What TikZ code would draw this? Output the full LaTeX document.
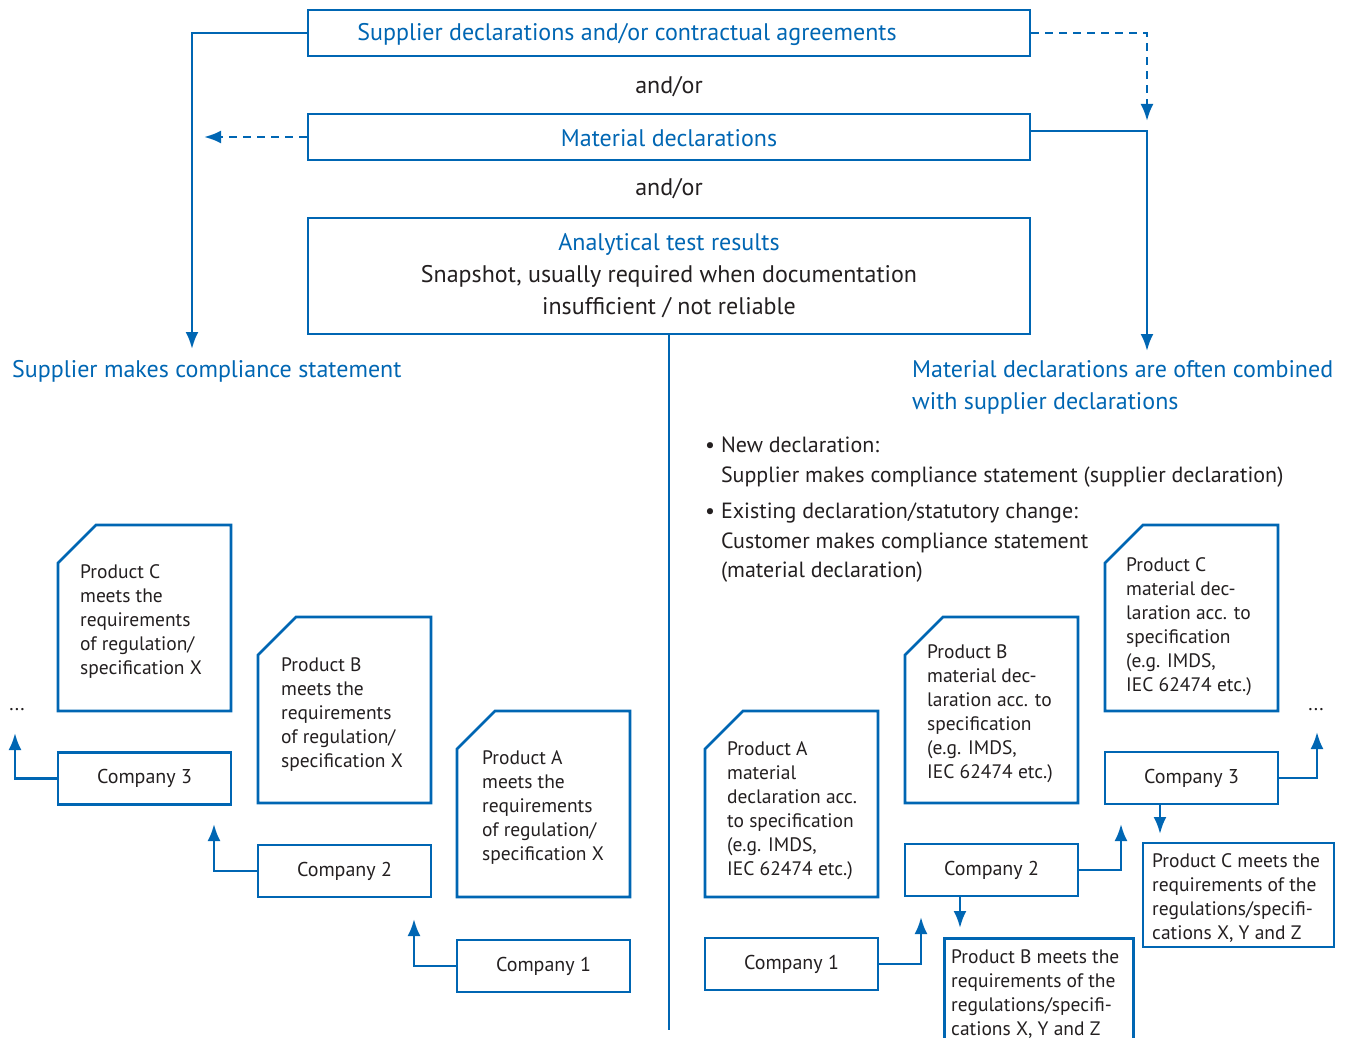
\documentclass[tikz,border=0pt]{standalone}
\usepackage{fontspec}
\setmainfont{PT Sans}
\usetikzlibrary{arrows.meta}
\definecolor{fblue}{RGB}{0,102,179}
\definecolor{ftext}{RGB}{35,31,32}
\newcommand\fsz[2]{\fontsize{#1}{#2}\selectfont}
\begin{document}
\begin{tikzpicture}[x=1pt,y=-1pt,
  box/.style={draw=fblue, line width=2.6pt, inner sep=0pt},
  company/.style={box, minimum width=173pt, minimum height=52pt, text=ftext, font=\fsz{20}{24}},
  doctext/.style={anchor=west, align=left, inner sep=0pt, text=ftext, font=\fsz{19.5}{24}},
  btext/.style={text=fblue, inner sep=0pt, font=\fsz{24}{32}},
  ktext/.style={text=ftext, inner sep=0pt, font=\fsz{24}{32}},
  conn/.style={draw=fblue, line width=2.6pt, -{Latex[length=17pt,width=13pt]}},
  dconn/.style={conn, dash pattern=on 8pt off 6pt}]
\useasboundingbox (0,0) rectangle (1357,1038);

% ---------- top boxes ----------
\node[box, minimum width=722pt, minimum height=46pt] (sd) at (669,33) {};
\node[btext] (sdt) at (627,35) {Supplier declarations and/or contractual agreements};
\node[ktext] (or1) at (669,87) {and/or};
\node[box, minimum width=722pt, minimum height=46pt] (md) at (669,137) {};
\node[btext] (mdt) at (669,138) {Material declarations};
\node[ktext] (or2) at (669,189) {and/or};
\node[box, minimum width=722pt, minimum height=116pt] (an) at (669,276) {};
\node[ktext, align=center] (ant) at (669,276) {\textcolor{fblue}{Analytical test results}\\Snapshot, usually required when documentation\\insufficient / not reliable};

% ---------- side labels ----------
\node[btext, anchor=west] (lsup) at (12,371) {Supplier makes compliance statement};
\node[btext, anchor=west, align=left] (rmat) at (912,387) {Material declarations are often combined\\with supplier declarations};

\coordinate (ltip) at (192,349);
\coordinate (ldtip) at (204,137);
\coordinate (rdtip) at (1147,121);
\coordinate (rtip) at (1147,351);
\draw[conn] (sd.west) -| (ltip);
\draw[dconn] (md.west) -- (ldtip);
\draw[dconn] (sd.east) -| (rdtip);
\draw[conn] ([yshift=6pt]md.east) -| (rtip);

% centre divider
\coordinate (bot) at (669,1030);
\draw[fblue, line width=2.6pt] (an.south) -- (bot);

% ---------- bullets ----------
\node[anchor=west, align=left, inner sep=0pt, text=ftext, font=\fsz{22}{29.5}] (b1) at (705,462)
  {\textbullet\ New declaration:\\\hphantom{\textbullet\ }Supplier makes compliance statement (supplier declaration)};
\node[anchor=west, align=left, inner sep=0pt, text=ftext, font=\fsz{22}{29.5}] (b2) at (705,543)
  {\textbullet\ Existing declaration/statutory change:\\\hphantom{\textbullet\ }Customer makes compliance statement\\\hphantom{\textbullet\ }(material declaration)};

% ---------- documents ----------
\newcommand\docshape[4]{%
  \draw[draw=fblue, line width=2.6pt, line join=miter] (#1,{#2+38}) -- ({#1+38},#2) -- ({#1+#3},#2) -- ({#1+#3},{#2+#4}) -- (#1,{#2+#4}) -- cycle;}

% left side
\docshape{58}{525}{173}{186}
\node[doctext] (dlc) at (80,622) {Product C\\meets the\\requirements\\of regulation/\\specification X};
\docshape{258}{617}{173}{186}
\node[doctext] (dlb) at (281,715) {Product B\\meets the\\requirements\\of regulation/\\specification X};
\docshape{457}{711}{173}{186}
\node[doctext] (dla) at (482,808) {Product A\\meets the\\requirements\\of regulation/\\specification X};

\node[company] (lc3) at (144.5,778.5) {Company 3};
\node[company] (lc2) at (344.5,871) {Company 2};
\node[company] (lc1) at (543.5,966) {Company 1};
\node[text=ftext, inner sep=0pt, font=\fsz{20}{24}] (ldots) at (17,710) {...};
\coordinate (lt3) at (15,733);
\coordinate (lt2) at (214,824);
\coordinate (lt1) at (414,919);
\draw[conn] (lc3.west) -| (lt3);
\draw[conn] (lc2.west) -| (lt2);
\draw[conn] (lc1.west) -| (lt1);

% right side
\docshape{705}{711}{173}{186}
\node[doctext] (dra) at (727,811) {Product A\\material\\declaration acc.\\to specification\\(e.g. IMDS,\\IEC 62474 etc.)};
\docshape{905}{617}{173}{186}
\node[doctext] (drb) at (927,714) {Product B\\material dec-\\laration acc. to\\specification\\(e.g. IMDS,\\IEC 62474 etc.)};
\docshape{1105}{525}{173}{186}
\node[doctext] (drc) at (1126,627) {Product C\\material dec-\\laration acc. to\\specification\\(e.g. IMDS,\\IEC 62474 etc.)};

\node[company] (rc1) at (791.5,964) {Company 1};
\node[company] (rc2) at (991.5,870) {Company 2};
\node[company] (rc3) at (1191.5,778) {Company 3};
\node[text=ftext, inner sep=0pt, font=\fsz{20}{24}] (rdots) at (1316,710) {...};

\node[box, anchor=north west, minimum width=189pt, minimum height=120pt] (pbm) at (943,937) {};
\node[doctext] (pbmt) at (951,994) {Product B meets the\\requirements of the\\regulations/specifi-\\cations X, Y and Z};
\node[box, minimum width=191pt, minimum height=104pt] (pcm) at (1238.5,895) {};
\node[doctext] (pcmt) at (1152,898) {Product C meets the\\requirements of the\\regulations/specifi-\\cations X, Y and Z};

\coordinate (rt1) at (921,917);
\coordinate (rt2) at (1121,824);
\coordinate (rt3) at (1317,732);
\coordinate (rd2) at (960,928);
\coordinate (rd3) at (1160,834);
\draw[conn] (rc1.east) -| (rt1);
\draw[conn] (rc2.east) -| (rt2);
\draw[conn] (rc3.east) -| (rt3);
\draw[conn] (rc2.south -| rd2) -- (rd2);
\draw[conn] (rc3.south -| rd3) -- (rd3);
\end{tikzpicture}
\end{document}
